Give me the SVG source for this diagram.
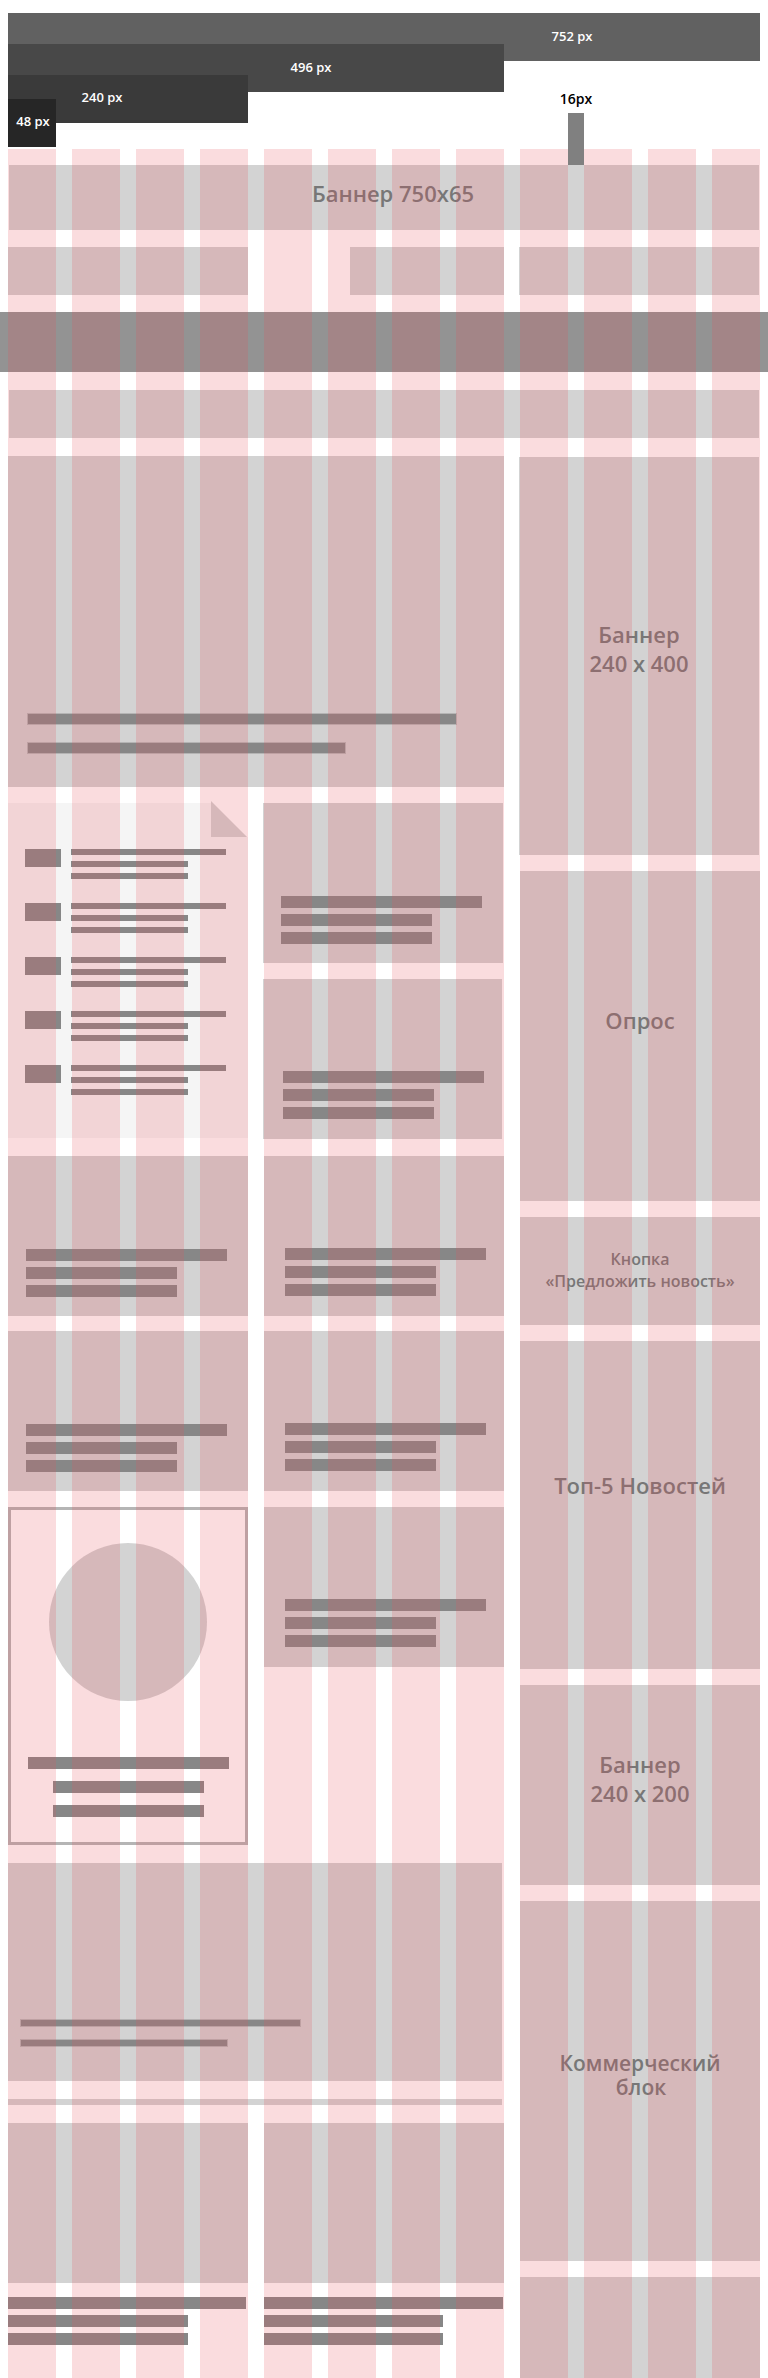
<svg xmlns="http://www.w3.org/2000/svg" width="768" height="2378" viewBox="0 0 768 2378">
<style>
.blk{fill:#d3d3d3}
.bar{fill:#878787}
.sbar{fill:#878787;stroke:#b4b4b4;stroke-width:1}
.col{fill:#e6505a;fill-opacity:0.2}
.lbl{font-family:"Open Sans","DejaVu Sans",sans-serif;font-weight:600;fill:#777777;text-anchor:middle}
.big{font-size:22px}
.sm{font-size:16px}
.px{font-family:"Open Sans","DejaVu Sans",sans-serif;font-weight:600;font-size:13px;fill:#ffffff;text-anchor:middle}
</style>
<rect x="0" y="0" width="768" height="2378" fill="#ffffff"/>
<g id="rulers">
<rect x="8" y="13" width="752" height="48" fill="#616161"/>
<rect x="8" y="44" width="496" height="48" fill="#484848"/>
<rect x="8" y="75" width="240" height="48" fill="#3a3a3a"/>
<rect x="8" y="99" width="48" height="48" fill="#262626"/>
<text class="px" x="572" y="41">752 px</text>
<text class="px" x="311" y="72">496 px</text>
<text class="px" x="102" y="102">240 px</text>
<text class="px" x="33" y="126">48 px</text>
<rect x="568" y="113" width="16" height="61" fill="#808080"/>
<text class="px" x="576" y="104" style="fill:#000000;font-size:14px">16px</text>
</g>
<g id="banner-top">
<rect class="blk" x="9" y="165" width="750" height="65"/>
<text class="lbl big" x="393" y="202">Баннер 750x65</text>
</g>
<g id="row2">
<rect class="blk" x="8" y="247" width="240" height="48"/>
<rect class="blk" x="350" y="247" width="154" height="48"/>
<rect class="blk" x="519" y="247" width="240" height="48"/>
</g>
<g id="menu-band">
<rect x="0" y="312" width="768" height="60" fill="#939393"/>
</g>
<g id="row4">
<rect class="blk" x="9" y="390" width="750" height="48"/>
</g>
<g id="main-news">
<rect class="blk" x="8" y="456" width="496" height="331"/>
<rect class="sbar" x="27.5" y="713.5" width="429" height="11"/>
<rect class="sbar" x="27.5" y="742.5" width="318" height="11"/>
</g>
<g id="banner-240x400">
<rect class="blk" x="519" y="457" width="240" height="398"/>
<text class="lbl big" x="639" y="643">Баннер<tspan x="639" dy="29">240 x 400</tspan></text>
</g>
<g id="news-list">
<polygon points="8,803 211,803 247,837 248,837 248,1138 8,1138" fill="#f5f5f5"/>
<polygon points="211,801 211,837 247,837" fill="#d3d3d3"/>
<rect class="bar" x="25" y="849" width="36" height="18"/>
<rect class="bar" x="71" y="849" width="155" height="6"/>
<rect class="bar" x="71" y="861" width="117" height="6"/>
<rect class="bar" x="71" y="873" width="117" height="6"/>
<rect class="bar" x="25" y="903" width="36" height="18"/>
<rect class="bar" x="71" y="903" width="155" height="6"/>
<rect class="bar" x="71" y="915" width="117" height="6"/>
<rect class="bar" x="71" y="927" width="117" height="6"/>
<rect class="bar" x="25" y="957" width="36" height="18"/>
<rect class="bar" x="71" y="957" width="155" height="6"/>
<rect class="bar" x="71" y="969" width="117" height="6"/>
<rect class="bar" x="71" y="981" width="117" height="6"/>
<rect class="bar" x="25" y="1011" width="36" height="18"/>
<rect class="bar" x="71" y="1011" width="155" height="6"/>
<rect class="bar" x="71" y="1023" width="117" height="6"/>
<rect class="bar" x="71" y="1035" width="117" height="6"/>
<rect class="bar" x="25" y="1065" width="36" height="18"/>
<rect class="bar" x="71" y="1065" width="155" height="6"/>
<rect class="bar" x="71" y="1077" width="117" height="6"/>
<rect class="bar" x="71" y="1089" width="117" height="6"/>
</g>
<g id="mid-1">
<rect class="blk" x="263" y="803" width="240" height="160"/>
<rect class="bar" x="281" y="896" width="201" height="12"/>
<rect class="bar" x="281" y="914" width="151" height="12"/>
<rect class="bar" x="281" y="932" width="151" height="12"/>
</g>
<g id="mid-2">
<rect class="blk" x="263" y="979" width="239" height="160"/>
<rect class="bar" x="283" y="1071" width="201" height="12"/>
<rect class="bar" x="283" y="1089" width="151" height="12"/>
<rect class="bar" x="283" y="1107" width="151" height="12"/>
</g>
<g id="poll">
<rect class="blk" x="520" y="871" width="240" height="330"/>
<text class="lbl big" x="640" y="1029">Опрос</text>
</g>
<g id="left-a">
<rect class="blk" x="8" y="1156" width="240" height="160"/>
<rect class="bar" x="26" y="1249" width="201" height="12"/>
<rect class="bar" x="26" y="1267" width="151" height="12"/>
<rect class="bar" x="26" y="1285" width="151" height="12"/>
</g>
<g id="mid-a">
<rect class="blk" x="264" y="1156" width="240" height="160"/>
<rect class="bar" x="285" y="1248" width="201" height="12"/>
<rect class="bar" x="285" y="1266" width="151" height="12"/>
<rect class="bar" x="285" y="1284" width="151" height="12"/>
</g>
<g id="left-b">
<rect class="blk" x="8" y="1331" width="240" height="160"/>
<rect class="bar" x="26" y="1424" width="201" height="12"/>
<rect class="bar" x="26" y="1442" width="151" height="12"/>
<rect class="bar" x="26" y="1460" width="151" height="12"/>
</g>
<g id="mid-b">
<rect class="blk" x="264" y="1331" width="240" height="160"/>
<rect class="bar" x="285" y="1423" width="201" height="12"/>
<rect class="bar" x="285" y="1441" width="151" height="12"/>
<rect class="bar" x="285" y="1459" width="151" height="12"/>
</g>
<g id="button">
<rect class="blk" x="520" y="1217" width="240" height="108"/>
<text class="lbl sm" x="640" y="1265">Кнопка<tspan x="640" dy="22">«Предложить новость»</tspan></text>
</g>
<g id="top5">
<rect class="blk" x="520" y="1341" width="240" height="328"/>
<text class="lbl big" x="640" y="1494">Топ-5 Новостей</text>
</g>
<g id="card">
<rect x="9.5" y="1508.5" width="237" height="335" fill="none" stroke="#b5b5b5" stroke-width="3"/>
<circle class="blk" cx="128" cy="1622" r="79"/>
<rect class="bar" x="28" y="1757" width="201" height="12"/>
<rect class="bar" x="53" y="1781" width="151" height="12"/>
<rect class="bar" x="53" y="1805" width="151" height="12"/>
</g>
<g id="mid-c">
<rect class="blk" x="264" y="1507" width="240" height="160"/>
<rect class="bar" x="285" y="1599" width="201" height="12"/>
<rect class="bar" x="285" y="1617" width="151" height="12"/>
<rect class="bar" x="285" y="1635" width="151" height="12"/>
</g>
<g id="banner-240x200">
<rect class="blk" x="520" y="1685" width="240" height="200"/>
<text class="lbl big" x="640" y="1773">Баннер<tspan x="640" dy="29">240 x 200</tspan></text>
</g>
<g id="wide-bottom">
<rect class="blk" x="8" y="1863" width="494" height="218"/>
<rect class="sbar" x="20.5" y="2019.5" width="280" height="7"/>
<rect class="sbar" x="20.5" y="2039.5" width="207" height="7"/>
<rect class="blk" x="8" y="2099" width="494" height="6"/>
</g>
<g id="commercial">
<rect class="blk" x="520" y="1901" width="240" height="360"/>
<text class="lbl" style="font-size:21px" x="640" y="2071">Коммерческий<tspan x="641" dy="24">блок</tspan></text>
</g>
<g id="right-last">
<rect class="blk" x="520" y="2277" width="240" height="101"/>
</g>
<g id="bottom-left">
<rect class="blk" x="8" y="2123" width="240" height="160"/>
<rect class="bar" x="8" y="2297" width="238" height="12"/>
<rect class="bar" x="8" y="2315" width="180" height="12"/>
<rect class="bar" x="8" y="2333" width="180" height="12"/>
</g>
<g id="bottom-mid">
<rect class="blk" x="264" y="2123" width="240" height="160"/>
<rect class="bar" x="264" y="2297" width="239" height="12"/>
<rect class="bar" x="264" y="2315" width="179" height="12"/>
<rect class="bar" x="264" y="2333" width="179" height="12"/>
</g>
<g id="grid-columns">
<rect class="col" x="8" y="149" width="48" height="2229"/>
<rect class="col" x="72" y="149" width="48" height="2229"/>
<rect class="col" x="136" y="149" width="48" height="2229"/>
<rect class="col" x="200" y="149" width="48" height="2229"/>
<rect class="col" x="264" y="149" width="48" height="2229"/>
<rect class="col" x="328" y="149" width="48" height="2229"/>
<rect class="col" x="392" y="149" width="48" height="2229"/>
<rect class="col" x="456" y="149" width="48" height="2229"/>
<rect class="col" x="520" y="149" width="48" height="2229"/>
<rect class="col" x="584" y="149" width="48" height="2229"/>
<rect class="col" x="648" y="149" width="48" height="2229"/>
<rect class="col" x="712" y="149" width="48" height="2229"/>
</g>
<g id="connectors"></g>
</svg>
